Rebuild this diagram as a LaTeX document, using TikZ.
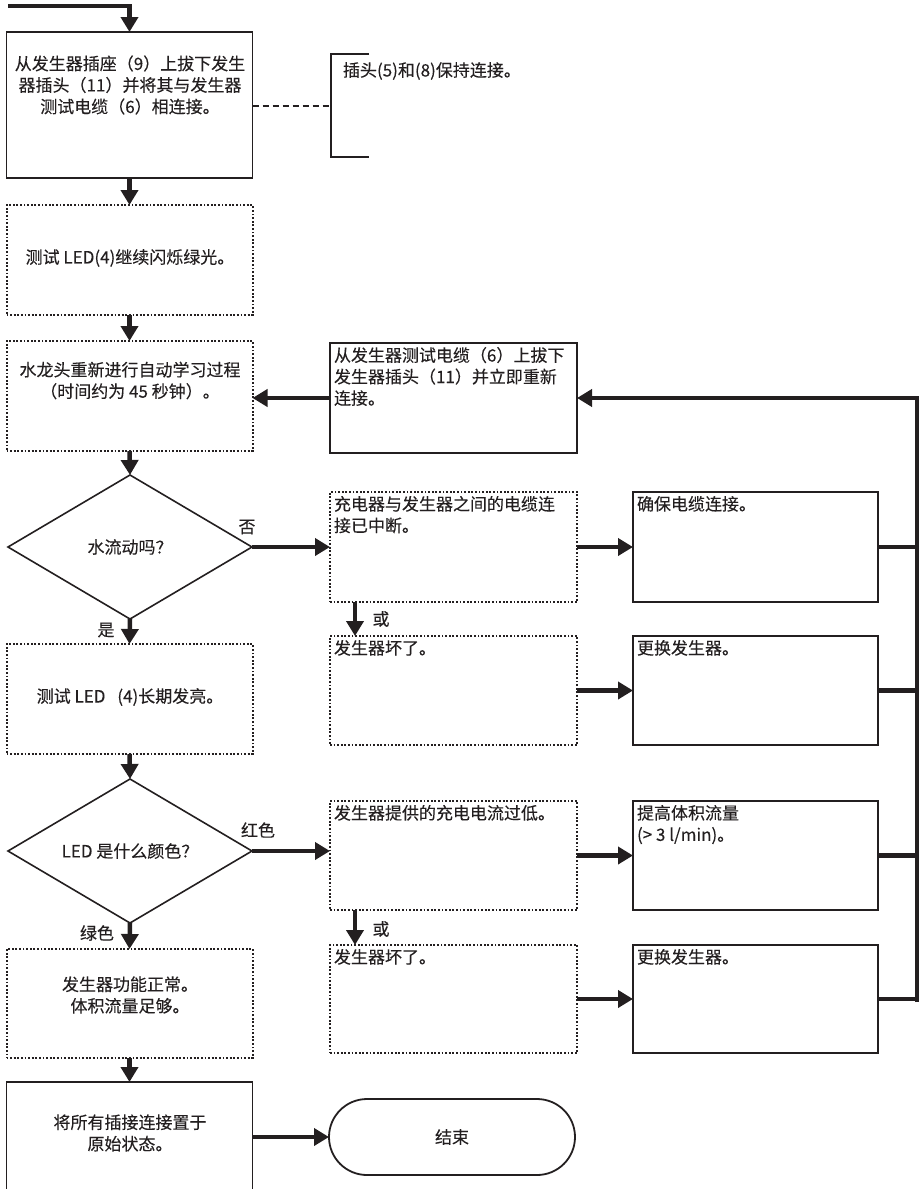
\documentclass[tikz,border=0pt]{standalone}
\usepackage{fontspec}
\setmainfont{Noto Sans CJK SC}[FakeBold=0.15]
\usetikzlibrary{arrows.meta,shapes.geometric,calc}
\definecolor{ink}{HTML}{231F20}
\begin{document}
\begin{tikzpicture}[x=1pt,y=-1pt,
  every node/.style={font=\fontsize{17}{21.5}\selectfont, text=ink, inner sep=0pt, outer sep=0pt},
  solidbox/.style={draw=ink, line width=1.8pt, minimum width=246pt, minimum height=110pt},
  dotbox/.style={draw=ink, line width=2pt, dash pattern=on 1.8pt off 1.8pt, minimum width=246pt, minimum height=110pt},
  flow/.style={draw=ink, line width=4.5pt, -{Triangle[length=15pt,width=17pt]}},
  bar/.style={draw=ink, line width=4.5pt},
  dec/.style={draw=ink, line width=1.6pt, shape=diamond, minimum width=244pt, minimum height=144pt, aspect=1.7},
  term/.style={draw=ink, line width=1.8pt, minimum width=246pt, minimum height=76pt, rounded corners=38pt},
  tl/.style={anchor=north west, align=left}
]
\useasboundingbox (0,0) rectangle (921,1189);

% left column
\coordinate (start) at (8,6);
\node[solidbox, minimum height=146pt] (b1) at (129.5,105) {};
\node[align=center] (t1) at (130,85) {从发生器插座（9）上拔下发生\\器插头（11）并将其与发生器\\测试电缆（6）相连接。};
\node[dotbox] (b2) at (129.5,260) {};
\node (t2) at (130,258) {测试 LED(4)继续闪烁绿光。};
\node[dotbox] (b3) at (129.5,396) {};
\node[align=center] (t3) at (130,380.5) {水龙头重新进行自动学习过程\\（时间约为 45 秒钟）。};
\node[dec] (d1) at (130,547) {水流动吗？};
\node[dotbox] (b13) at (129.5,699) {};
\node (t13) at (130,697) {测试 LED\hspace{0.7em}(4)长期发亮。};
\node[dec] (d2) at (130,851) {LED 是什么颜色？};
\node[dotbox, minimum height=109pt] (b14) at (129.5,1003.5) {};
\node[align=center] (t14) at (130,995) {发生器功能正常。\\体积流量足够。};
\node[solidbox, minimum height=118pt] (b15) at (129.5,1141) {};
\node[align=center] (t15) at (130,1133) {将所有插接连接置于\\原始状态。};

% bracket note
\coordinate (brtop) at (331,54);
\coordinate (brbot) at (331,157);
\coordinate (brmid) at (331,106);
\node[anchor=west] (tn) at (343,71) {插头(5)和(8)保持连接。};

% middle column
\node[solidbox, minimum width=247pt] (b4) at (453.5,398) {};
\node[tl] (t4) at ($(b4.north west)+(4,4)$) {从发生器测试电缆（6）上拔下\\发生器插头（11）并立即重新\\连接。};
\node[dotbox, minimum width=247pt] (b5) at (453.5,547) {};
\node[tl] (t5) at ($(b5.north west)+(4,4)$) {充电器与发生器之间的电缆连\\接已中断。};
\node[dotbox, minimum width=247pt, minimum height=109pt] (b7) at (453.5,690.5) {};
\node[tl] (t7) at ($(b7.north west)+(4,4)$) {发生器坏了。};
\node[dotbox, minimum width=247pt, minimum height=109pt] (b9) at (453.5,855.5) {};
\node[tl] (t9) at ($(b9.north west)+(4,4)$) {发生器提供的充电电流过低。};
\node[dotbox, minimum width=247pt, minimum height=108pt] (b11) at (453.5,999) {};
\node[tl] (t11) at ($(b11.north west)+(4,4)$) {发生器坏了。};
\node[term] (end) at (452,1137) {结束};

% right column
\node[solidbox, minimum width=245pt] (b6) at (755.5,547) {};
\node[tl] (t6) at ($(b6.north west)+(4,4)$) {确保电缆连接。};
\node[solidbox, minimum width=245pt, minimum height=109pt] (b8) at (755.5,690.5) {};
\node[tl] (t8) at ($(b8.north west)+(4,4)$) {更换发生器。};
\node[solidbox, minimum width=245pt, minimum height=109pt] (b10) at (755.5,855.5) {};
\node[tl] (t10) at ($(b10.north west)+(4,4)$) {提高体积流量\\(> 3 l/min)。};
\node[solidbox, minimum width=245pt, minimum height=108pt] (b12) at (755.5,999) {};
\node[tl] (t12) at ($(b12.north west)+(4,4)$) {更换发生器。};

\coordinate (bustop) at (917,398);
\coordinate (busbot) at (917,1002);

% labels
\node (lno) at (247,527) {否};
\node (lyes) at (106,630) {是};
\node (lred) at (258,830) {红色};
\node (lgreen) at (97,933) {绿色};
\node (lor1) at (381,619) {或};
\node (lor2) at (381,929) {或};

% connectors
\draw[flow] (start) -- (b1.north |- start) -- (b1.north);
\draw[flow] (b1.south) -- (b2.north);
\draw[flow] (b2.south) -- (b3.north);
\draw[flow] (b3.south) -- (d1.north);
\draw[flow] (d1.south) -- (b13.north);
\draw[flow] (b13.south) -- (d2.north);
\draw[flow] (d2.south) -- (b14.north);
\draw[flow] (b14.south) -- (b15.north);
\draw[flow] (end.west -| b15.east) -- (end.west);

\draw[draw=ink, line width=1.5pt, dash pattern=on 6pt off 4pt] (b1.east |- brmid) -- (brmid);
\draw[draw=ink, line width=1.8pt] ($(brtop)+(38,0)$) -- (brtop) -- (brbot) -- ++(38,0);

\draw[flow] (b4.west) -- (b4.west -| b3.east);
\draw[flow] (busbot) -- (bustop) -- (b4.east);
\draw[flow] (d1.east) -- (b5.west);
\draw[flow] (d2.east) -- (d2.east -| b9.west);
\draw[flow] ($(b5.south west)+(25,0)$) -- ($(b7.north west)+(25,0)$);
\draw[flow] ($(b9.south west)+(25,0)$) -- ($(b11.north west)+(25,0)$);
\draw[flow] (b5.east) -- (b6.west);
\draw[flow] (b7.east) -- (b8.west);
\draw[flow] (b9.east) -- (b10.west);
\draw[flow] (b11.east) -- (b12.west);
\draw[bar] (b6.east) -- (b6.east -| bustop);
\draw[bar] (b8.east) -- (b8.east -| bustop);
\draw[bar] (b10.east) -- (b10.east -| bustop);
\draw[bar] (b12.east) -- (b12.east -| bustop);
\end{tikzpicture}
\end{document}
